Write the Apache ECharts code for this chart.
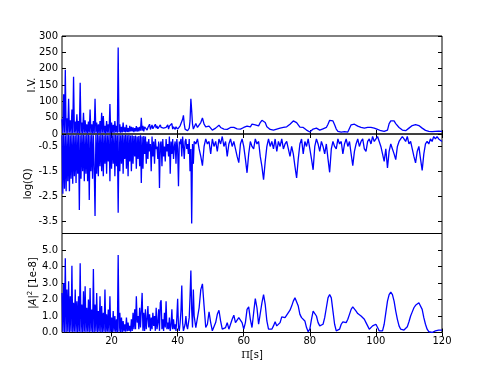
<!DOCTYPE html>
<html>
<head>
<meta charset="utf-8">
<script src="https://cdn.jsdelivr.net/npm/echarts@6/dist/echarts.min.js"></script>
<style>
  html, body { margin: 0; padding: 0; background: #fff; }
  #main { width: 491px; height: 370px; }
</style>
</head>
<body>
<div id="main"></div>
<script>
// sampling of the period axis: dense part 5..45 (step 0.25), then 45.5..120 (step 0.5)
const denseStart = 5, denseStep = 0.25;
const coarseStart = 45.5, coarseStep = 0.5;

// I.V.
const ivDense = [
  45,3,122,4, 197,2,48,3, 108,4,42,2, 75,3,175,4, 38,2,60,3,
  40,2,157,3, 35,2,65,4, 42,3,30,2, 38,4,75,3, 30,2,40,3,
  108,4,35,2, 30,3,40,2, 65,4,55,3, 25,2,40,4, 30,3,92,2,
  35,4,28,3, 40,5,25,4, 265,5,30,4, 22,5,35,6, 20,5,28,6,
  18,6,25,8, 22,8,20,6, 18,8,24,7, 20,8,22,10, 50,10,25,8,
  22,18,28,12, 20,15,30,14, 18,28,16,22, 14,30,18,25, 16,22,14,28,
  20,15,25,18, 22,14,20,16, 28,15,24,18, 20,32,15,22, 18,14,22,28,
  15,20,18,25, 22,30,45,57, 30,15,18,12, 10,12,18,40, 108,70,30,15,
  12
];
const ivCoarse = [
  32,20,18,35,49,30,22,20,24,18,
  12,14,18,24,27,20,17,15,16,14,
  18,20,22,20,18,16,17,15,18,20,
  22,24,20,22,30,35,28,22,25,35,
  42,45,35,22,17,14,12,12,14,15,
  16,18,19,20,18,22,25,30,36,40,
  41,35,28,21,22,20,15,12,8,6,
  10,15,20,18,13,12,15,16,14,20,
  30,42,47,40,28,15,8,7,6,6,
  7,6,6,8,28,33,30,26,24,23,
  20,18,18,17,20,19,20,19,18,16,
  14,12,10,9,8,7,12,32,40,44,
  40,32,26,20,15,12,10,10,14,18,
  22,26,28,29,29,26,22,18,14,11,
  9,8,7,7,8,8,8,9,8,8
];

// log(Q)
const logqDense = [
  -0.05,-2.4,-0.03,-2.2, -0.05,-2.3,-0.02,-1.9, -0.04,-2.3,-0.05,-1.8, -0.03,-2.0,-0.05,-1.7, -0.05,-1.97,-0.02,-1.6,
  -0.04,-3.06,-0.05,-1.8, -0.03,-1.5,-0.04,-1.9, -0.05,-1.6,-0.02,-1.9, -0.04,-2.65,-0.05,-1.5, -0.03,-1.8,-0.05,-1.4,
  -3.3,-0.04,-1.6,-0.02, -1.7,-0.05,-1.3,-0.03, -1.5,-0.04,-1.7,-0.05, -1.2,-0.03,-1.6,-0.05, -1.1,-0.04,-1.9,-0.02,
  -1.4,-0.05,-1.2,-0.03, -1.7,-0.04,-1.3,-0.05, -3.17,-0.03,-1.5,-0.05, -1.2,-0.04,-1.6,-0.05, -1.0,-0.03,-1.4,-0.05,
  -1.7,-0.04,-1.1,-0.06, -1.5,-0.05,-1.2,-0.08, -0.9,-0.06,-1.4,-0.1, -1.0,-0.08,-1.3,-0.05, -1.97,-0.1,-1.4,-0.08,
  -0.8,-0.1,-1.2,-0.3, -1.0,-0.2,-0.7,-0.4, -1.5,-0.1,-0.9,-0.3, -1.2,-0.2,-0.6,-0.5, -1.0,-0.3,-2.17,-0.4,
  -0.3,-1.3,-0.2,-0.9, -0.5,-1.1,-0.2,-0.7, -0.4,-0.9,-0.1,-1.6, -0.3,-0.8,-0.2,-1.0, -0.5,-0.3,-1.2,-0.2,
  -0.6,-2.1,-0.3,-0.4, -0.2,-0.9,-0.1,-0.5, -1.0,-0.3,-0.2,-0.6, -0.4,-0.8,-0.2,-1.5, -0.6,-3.6,-0.4,-1.2,
  -0.3
];
const logqCoarse = [
  -0.4,-0.2,-0.6,-0.9,-1.27,-0.5,-0.2,-0.4,-0.3,-0.8,
  -0.2,-0.5,-0.3,-0.7,-0.2,-0.4,-0.1,-0.5,-0.3,-0.9,
  -0.4,-0.2,-0.5,-0.3,-0.6,-0.9,-1.15,-0.4,-0.2,-0.5,
  -1.0,-1.56,-0.8,-0.3,-0.5,-0.6,-0.2,-0.4,-0.3,-0.9,
  -1.3,-1.84,-1.1,-0.5,-0.2,-0.5,-0.3,-0.6,-0.2,-0.7,
  -0.3,-0.5,-0.2,-0.6,-0.4,-0.3,-0.6,-0.9,-0.5,-0.8,
  -1.3,-1.77,-1.0,-0.4,-0.2,-0.8,-0.3,-0.5,-0.2,-0.6,
  -1.0,-1.44,-0.5,-0.2,-0.4,-0.7,-0.3,-0.5,-0.8,-0.4,
  -1.0,-1.54,-0.6,-0.3,-0.5,-0.6,-0.2,-0.4,-0.3,-0.8,
  -0.4,-0.2,-0.5,-0.3,-0.8,-1.27,-0.7,-0.4,-0.2,-0.5,
  -0.3,-0.2,-0.6,-0.7,-0.3,-0.2,-0.4,-0.1,-0.3,-0.2,
  -0.1,-0.3,-0.5,-0.8,-1.1,-0.6,-1.36,-0.7,-0.4,-0.6,
  -0.8,-1.03,-0.5,-0.3,-0.2,-0.1,-0.2,-0.3,-0.1,-0.4,
  -0.3,-0.6,-0.9,-1.16,-0.7,-0.5,-1.0,-1.46,-0.8,-0.4,
  -0.3,-0.4,-0.2,-0.3,-0.1,-0.2,-0.1,-0.2,-0.2,-0.3
];

// |A|^2 [1e-8]
const ampDense = [
  2.4,0.05,3.0,0.02, 4.5,0.03,2.6,0.05, 3.1,0.02,2.2,0.04, 4.05,0.03,1.8,0.05, 2.6,0.02,1.9,0.03,
  2.2,0.04,4.2,0.02, 1.7,0.03,2.5,0.05, 2.8,0.02,1.5,0.04, 2.0,0.03,2.7,0.05, 1.4,0.02,3.85,0.03,
  1.7,0.04,2.4,0.02, 1.3,0.05,2.2,0.03, 1.6,0.02,1.2,0.04, 2.6,0.03,1.1,0.05, 1.4,0.02,2.2,0.04,
  0.9,0.03,1.3,0.05, 1.0,0.04,0.8,0.02, 4.7,0.05,1.2,0.03, 0.9,0.04,0.7,0.06, 0.5,0.05,0.9,0.08,
  0.6,0.1,0.4,0.05, 0.8,0.1,1.2,0.2, 1.4,0.2,2.2,0.6, 1.0,0.2,1.5,0.3, 0.3,2.4,0.1,1.2,
  0.1,1.4,0.2,0.8, 1.6,0.3,1.1,0.1, 0.9,0.2,1.2,0.4, 1.0,0.1,1.5,0.2, 0.6,1.4,0.1,1.8,
  1.95,0.2,0.8,0.1, 1.2,0.3,1.9,0.2, 0.6,0.2,0.9,0.1, 0.4,1.4,0.2,0.8, 0.2,0.5,0.1,0.9,
  2.05,0.3,0.1,0.6, 1.3,2.85,0.6,0.1, 0.2,0.5,1.0,0.4, 0.2,0.3,0.9,2.2, 3.75,1.4,0.3,2.6,
  1.0
];
const ampCoarse = [
  0.3,0.2,1.5,2.6,2.95,1.6,0.3,0.5,1.25,0.6,
  0.1,0.2,0.6,1.1,1.35,0.7,0.2,0.1,0.3,0.6,
  0.2,0.3,0.8,1.05,0.6,0.5,0.9,1.0,0.6,0.2,
  0.6,1.4,1.55,0.8,0.3,1.2,2.05,1.5,0.5,0.6,
  1.8,2.3,1.7,0.7,0.2,0.1,0.2,0.4,0.65,0.4,
  0.3,0.6,0.95,1.05,0.9,1.0,1.2,1.35,1.6,1.9,
  2.1,2.0,1.6,1.1,0.9,0.95,0.7,0.3,0.05,0.2,
  0.8,1.3,1.35,1.0,0.6,0.4,0.4,0.5,0.9,1.5,
  2.1,2.3,2.1,1.3,0.5,0.1,0.0,0.2,0.5,0.65,
  0.6,0.6,0.8,1.1,1.4,1.55,1.5,1.3,1.15,1.05,
  1.0,0.9,0.8,0.6,0.4,0.2,0.2,0.4,0.5,0.5,
  0.3,0.1,0.0,0.1,0.5,1.2,1.9,2.3,2.45,2.3,
  1.9,1.3,0.8,0.4,0.2,0.15,0.15,0.2,0.35,0.65,
  1.0,1.25,1.5,1.65,1.75,1.8,1.75,1.4,0.9,0.5,
  0.2,0.05,0.0,0.0,0.05,0.1,0.15,0.15,0.2,0.15
];

const xTicks = [20, 40, 60, 80, 100, 120];
const logqTicks = [-3.5, -2.5, -1.5, -0.5];

const FONT = "DejaVu Sans";

function toPairs(dense, coarse) {
  let pts = [];
  dense.forEach((v, i) => pts.push([denseStart + i * denseStep, v]));
  coarse.forEach((v, i) => pts.push([coarseStart + i * coarseStep, v]));
  return pts;
}

var myChart = echarts.init(document.getElementById("main"));

const grids = [
  { left: 62, width: 380, top: 36, height: 98 },
  { left: 62, width: 380, top: 134, height: 99.5 },
  { left: 62, width: 380, top: 233.5, height: 99 }
].map(g => Object.assign(g, { show: true, borderColor: "#000", borderWidth: 1, backgroundColor: "transparent" }));

function xAx(gi, pos, labels) {
  let ax = {
    type: "value",
    gridIndex: gi,
    position: pos,
    min: 5,
    max: 120,
    axisLine: { show: false },
    axisTick: { show: true, inside: true, length: 4, customValues: xTicks, lineStyle: { color: "#000" } },
    axisLabel: { show: labels, customValues: xTicks, margin: 4, color: "#000", fontSize: 10, fontFamily: FONT },
    splitLine: { show: false }
  };
  if (labels) {
    ax.name = "{p|\u03A0}[s]";
    ax.nameLocation = "middle";
    ax.nameGap = 18;
    ax.nameMoveOverlap = false;
    ax.nameTextStyle = {
      color: "#000", fontSize: 10, fontFamily: FONT,
      rich: { p: { fontFamily: "DejaVu Serif", fontSize: 10, color: "#000" } }
    };
  }
  return ax;
}

function yAx(gi, pos, cfg, name, gap) {
  let ax = Object.assign({
    type: "value",
    gridIndex: gi,
    position: pos,
    axisLine: { show: false },
    splitLine: { show: false }
  }, cfg);
  ax.axisTick = Object.assign({ show: true, inside: true, length: 4, lineStyle: { color: "#000" } }, cfg.axisTick || {});
  ax.axisLabel = Object.assign({ show: pos == "left", margin: 4, color: "#000", fontSize: 10, fontFamily: FONT }, cfg.axisLabel || {});
  if (name && pos == "left") {
    ax.name = name;
    ax.nameLocation = "middle";
    ax.nameGap = gap;
    ax.nameMoveOverlap = false;
    ax.nameTextStyle = {
      color: "#000", fontSize: 10, fontFamily: FONT,
      rich: {
        i: { fontStyle: "italic", fontFamily: FONT, fontSize: 10, color: "#000" },
        s: { fontSize: 7, fontFamily: FONT, color: "#000", verticalAlign: "top", padding: [0, 0, 5, 0] }
      }
    };
  }
  return ax;
}

const ivCfg = { min: 0, max: 300, interval: 50 };
const logqCfg = { min: -4, max: 0, axisTick: { customValues: logqTicks }, axisLabel: { customValues: logqTicks } };
const ampCfg = { min: 0, max: 6, interval: 1, axisLabel: { showMaxLabel: false, formatter: v => v.toFixed(1) } };

const xAxes = [
  xAx(0, "bottom", false), xAx(1, "bottom", false), xAx(2, "bottom", true),
  xAx(0, "top", false), xAx(1, "top", false), xAx(2, "top", false)
];
const yAxes = [
  yAx(0, "left", ivCfg, "I.V.", 25),
  yAx(1, "left", logqCfg, "log(Q)", 29),
  yAx(2, "left", ampCfg, "{n||}{i|A}{n||}{s|2} [1e-8]", 23),
  yAx(0, "right", ivCfg),
  yAx(1, "right", logqCfg),
  yAx(2, "right", ampCfg)
];

function lineSeries(k, data) {
  return {
    type: "line",
    xAxisIndex: k,
    yAxisIndex: k,
    data: data,
    showSymbol: false,
    symbol: "none",
    clip: true,
    lineStyle: { color: "#0000ff", width: 1.3 },
    emphasis: { disabled: true }
  };
}

var option = {
  animation: false,
  backgroundColor: "#fff",
  grid: grids,
  xAxis: xAxes,
  yAxis: yAxes,
  series: [
    lineSeries(0, toPairs(ivDense, ivCoarse)),
    lineSeries(1, toPairs(logqDense, logqCoarse)),
    lineSeries(2, toPairs(ampDense, ampCoarse))
  ]
};
myChart.setOption(option);
</script>
</body>
</html>
